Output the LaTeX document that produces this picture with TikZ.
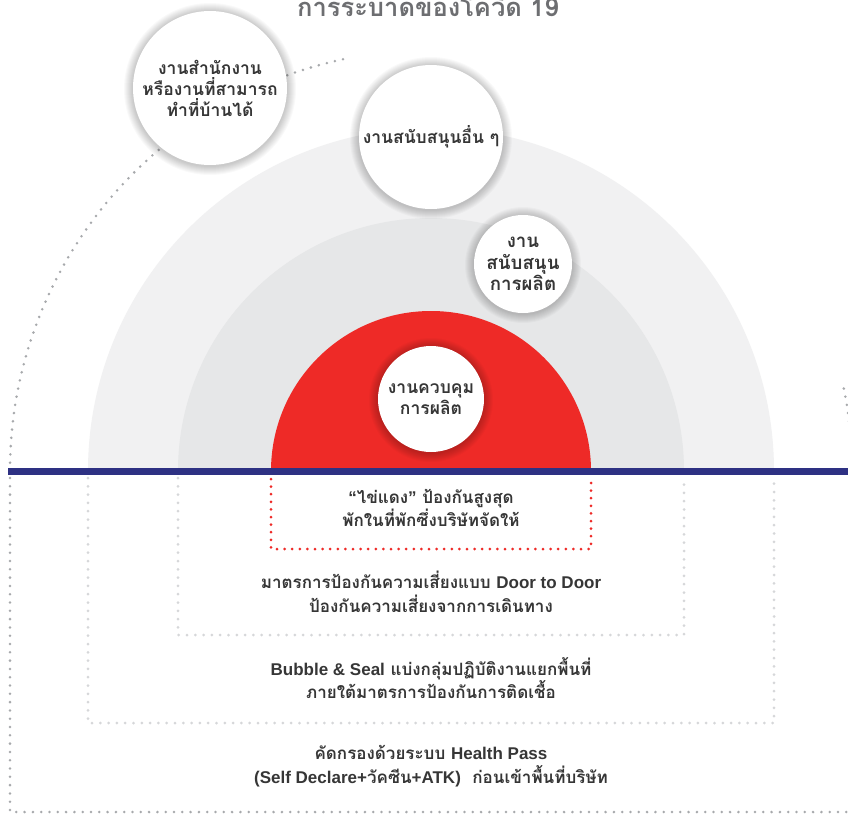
\documentclass[tikz,border=0pt]{standalone}
\usepackage{fontspec}
\setmainfont{Loma}[Script=Thai]
\newfontfamily\lat{Liberation Sans}
\newcommand{\en}[1]{{\lat #1}}

\definecolor{ringlight}{HTML}{F1F1F2}
\definecolor{ringmid}{HTML}{E6E7E8}
\definecolor{corered}{HTML}{EE2A27}
\definecolor{barblue}{HTML}{2E3183}
\definecolor{ink}{HTML}{363636}
\definecolor{titlegrey}{HTML}{6D6E71}
\definecolor{dotgrey}{HTML}{A7A9AC}
\definecolor{dotpale}{HTML}{D6D7D9}

\begin{document}
\begin{tikzpicture}[x=1pt,y=-1pt,
  outerdots/.style={draw=dotgrey, line width=2.8pt, line cap=round, dash pattern=on 0pt off 8.3pt},
  paledots/.style={draw=dotpale, line width=3pt, line cap=round, dash pattern=on 0pt off 8.3pt},
  reddots/.style={draw=corered, line width=3pt, line cap=round, dash pattern=on 0pt off 7.6pt},
  bubble/.style={circle, fill=white, inner sep=0pt, align=center, text=ink,
    font=\bfseries\fontsize{17.5}{21}\selectfont},
  halolayer/.style={fill=black, opacity=0.022},
  zonetext/.style={align=center, text=ink, inner sep=0pt,
    font=\bfseries\fontsize{17}{23.5}\selectfont}]
\useasboundingbox (0,0) rectangle (848,814);
\fill[white] (0,0) rectangle (848,814);

% nested half discs above the line
\fill[ringlight] (88,471) arc[start angle=180, end angle=0, radius=343pt] -- cycle;
\fill[ringmid] (178,471) arc[start angle=180, end angle=0, radius=253pt] -- cycle;
\fill[corered] (271,471) arc[start angle=180, end angle=0, radius=160pt] -- cycle;

% outer dotted ring
\draw[outerdots] (10,471) arc[start angle=180, end angle=101, radius=421pt];
\draw[outerdots] (852,471) arc[start angle=0, end angle=12, radius=421pt];

% dotted zones below the line
\draw[outerdots] (10,478) -- (10,812) -- (852,812);
\draw[paledots] (88,478) -- (88,723) -- (774,723) -- (774,478);
\draw[paledots] (178,478) -- (178,635) -- (684,635) -- (684,478);
\draw[reddots] (271,479) -- (271,549) -- (591,549) -- (591,479);

% dividing bar
\fill[barblue] (8,468) rectangle (848,475);

% title
\node[anchor=base, text=titlegrey, inner sep=0pt, font=\bfseries\fontsize{25.5}{25.5}\selectfont] (title) at (428,16) {การระบาดของโควิด 19};

% centres of the work-group bubbles
\coordinate (officec) at (210,88);
\coordinate (supportc) at (431,137);
\coordinate (prodsupportc) at (523,264);
\coordinate (prodcontrolc) at (431,399);

% soft halo around each bubble
\foreach \c/\r in {officec/77,supportc/72,prodsupportc/49,prodcontrolc/53}{
  \foreach \k in {1,...,9}{
    \fill[halolayer] ([yshift=-1pt]\c) circle[radius={(\r+\k)*1pt}];
  }
}

% work groups
\node[bubble, minimum size=154pt] (office) at (officec) {งานสำนักงาน\\หรืองานที่สามารถ\\ทำที่บ้านได้};
\node[bubble, minimum size=144pt] (support) at (supportc) {งานสนับสนุนอื่น ๆ};
\node[bubble, minimum size=98pt, font=\bfseries\fontsize{18.7}{21.5}\selectfont] (prodsupport) at (prodsupportc) {งาน\\สนับสนุน\\การผลิต};
\node[bubble, minimum size=106pt] (prodcontrol) at (prodcontrolc) {งานควบคุม\\การผลิต};

% measures
\node[zonetext] (yolk) at (431,508) {\en{“}ไข่แดง\en{”} ป้องกันสูงสุด\\พักในที่พักซึ่งบริษัทจัดให้};
\node[zonetext] (doortodoor) at (431,592) {มาตรการป้องกันความเสี่ยงแบบ \en{Door to Door}\\ป้องกันความเสี่ยงจากการเดินทาง};
\node[zonetext] (bubbleseal) at (431,678) {\en{Bubble \& Seal} แบ่งกลุ่มปฏิบัติงานแยกพื้นที่\\ภายใต้มาตรการป้องกันการติดเชื้อ};
\node[zonetext] (healthpass) at (431,766) {คัดกรองด้วยระบบ \en{Health Pass}\\\en{(Self Declare+}วัคซีน\en{+ATK)}\ \ ก่อนเข้าพื้นที่บริษัท};
\end{tikzpicture}
\end{document}
